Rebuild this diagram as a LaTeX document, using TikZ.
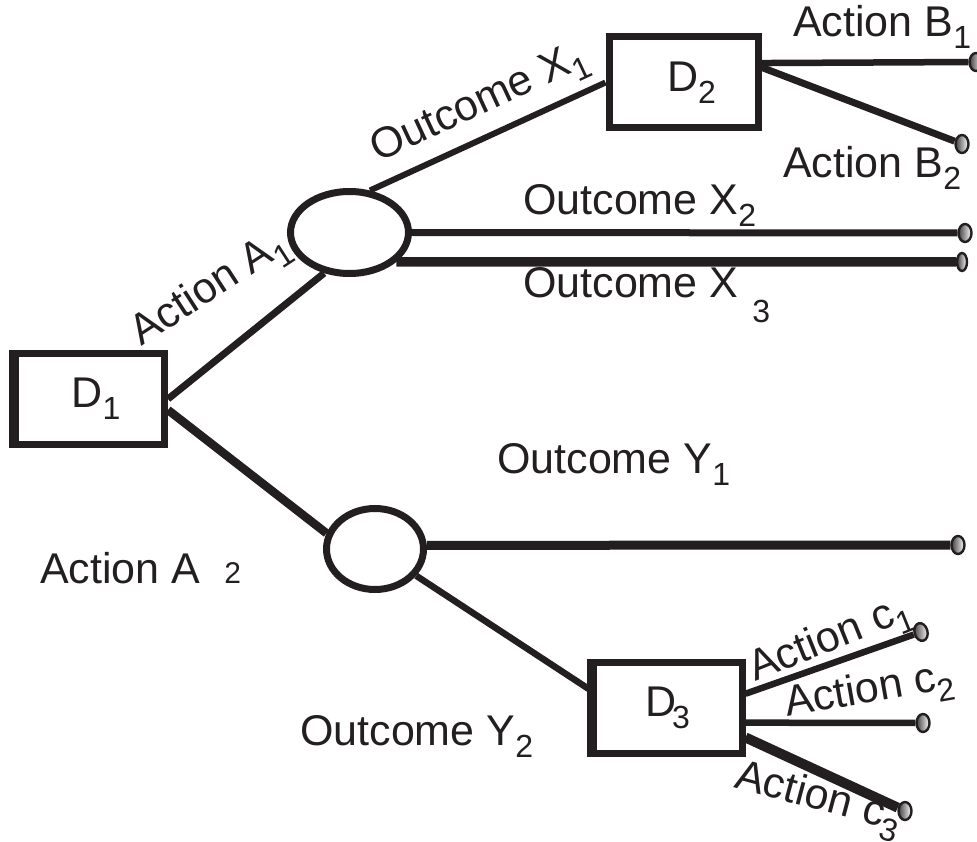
\documentclass[tikz,border=0pt]{standalone}
\usepackage{fontspec}
\setmainfont{Liberation Sans}
\usetikzlibrary{shapes.geometric}
\definecolor{ink}{RGB}{35,31,32}
\newcommand{\lowsub}[1]{\raisebox{-12pt}{\fontsize{32}{32}\selectfont #1}}
\begin{document}
\begin{tikzpicture}[x=1pt,y=-1pt,
  every node/.style={font=\fontsize{43}{50}\selectfont, text=ink},
  decbox/.style={draw=ink, rectangle, line width=7pt, minimum width=149pt, minimum height=91pt, inner sep=0pt},
  chance/.style={draw=ink, ellipse, line width=7pt, inner sep=0pt},
  tip/.style={draw=ink, ellipse, line width=2.4pt, minimum width=13pt, minimum height=18pt, inner sep=0pt, left color=ink!85, right color=white},
  lbl/.style={anchor=base west, inner sep=0pt},
  conn/.style={draw=ink}
]
\useasboundingbox (0,0) rectangle (977,842);

% decision and chance nodes
\node[decbox] (D1) at (90,399) {\hspace{12pt}D\lowsub{1}};
\node[decbox] (D2) at (683.5,82.5) {\hspace{16pt}D\lowsub{2}};
\node[decbox] (D3) at (667.5,707.5) {D\hspace{-4pt}\lowsub{3}\hspace{8pt}};
\node[chance, minimum width=118pt, minimum height=82pt] (C1) at (349.5,232.5) {};
\node[chance, minimum width=97pt, minimum height=81pt] (C2) at (375,549) {};
% heavier left edges of two boxes
\draw[ink, line width=4pt] ([xshift=-1.5pt]D1.north west) -- ([xshift=-1.5pt]D1.south west);
\draw[ink, line width=3pt] ([xshift=-1pt]D3.north west) -- ([xshift=-1pt]D3.south west);

% end points
\node[tip] (eB1) at (976,62) {};
\node[tip] (eB2) at (962,144) {};
\node[tip] (eX2) at (965,233) {};
\node[tip, minimum width=10pt] (eX3) at (962,262) {};
\node[tip] (eY1) at (958,545) {};
\node[tip, rotate=15] (ec1) at (921,632) {};
\node[tip] (ec2) at (923,723) {};
\node[tip] (ec3) at (905,811) {};

% connectors
\draw[conn, line width=7pt] (D1.east) -- (C1.-122);
\draw[conn, line width=6pt] (C1.64) -- (D2.west);
\draw[conn, line width=6.5pt] (D2.14.3) -- (eB1);
\draw[conn, line width=7pt] (D2.11.9) -- (eB2);
\draw[conn, line width=7pt] (C1.east) -- (eX2);
\draw[conn, line width=9.5pt] (C1.-32) -- (eX3);
\draw[conn, line width=8.5pt] (D1.-8) -- (C2.162);
\draw[conn, line width=9pt] (C2.4.4) -- (eY1);
\draw[conn, line width=6.5pt] (C2.-33) -- (D3.167);
\draw[conn, line width=6.5pt] (D3.10.5) -- (ec1);
\draw[conn, line width=6.5pt] (D3.-11) -- (ec2);
\draw[conn, line width=10pt] (D3.-21) -- (ec3);

% labels
\node[lbl] (tB1) at (793,37) {Action B\lowsub{1}};
\node[lbl] (tB2) at (783,178) {Action B\lowsub{2}};
\node[lbl] (tX2) at (523,215) {Outcome X\lowsub{2}};
\node[lbl] (tX3) at (523,298) {Outcome X\hspace{14pt}\raisebox{-25pt}{\fontsize{32}{32}\selectfont 3}};
\node[lbl] (tY1) at (497,473) {Outcome Y\lowsub{1}};
\node[lbl] (tY2) at (300,745) {Outcome Y\lowsub{2}};
\node[lbl] (tA2) at (40,583) {Action A\hspace{24pt}{\fontsize{30}{30}\selectfont 2}};
\node[lbl, rotate=33] (tA1) at (141,347) {Action A\lowsub{1}};
\node[lbl, rotate=25] (tX1) at (378,163) {Outcome X\lowsub{1}};
\node[lbl, rotate=22] (tc1) at (755,682) {Action c\lowsub{1}};
\node[lbl, rotate=10] (tc2) at (787,717) {Action c\lowsub{2}};
\node[lbl, rotate=-15] (tc3) at (733,787) {Action c\lowsub{3}};
\end{tikzpicture}
\end{document}
